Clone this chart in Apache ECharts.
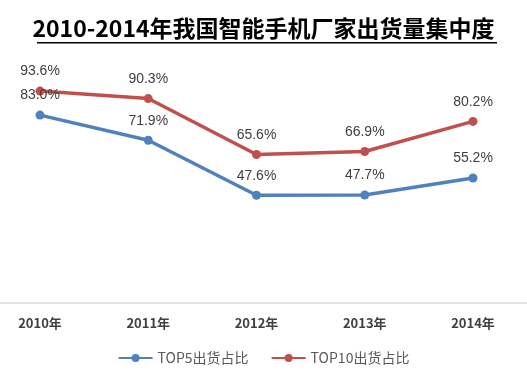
<!DOCTYPE html>
<html>
<head>
<meta charset="utf-8">
<script src="https://cdn.jsdelivr.net/npm/echarts@6/dist/echarts.min.js"></script>
<style>
html,body{margin:0;padding:0;background:#fff;}
#main{width:527px;height:377px;}
</style>
</head>
<body>
<div id="main"></div>
<script>
var years = ['2010年', '2011年', '2012年', '2013年', '2014年'];
var top5 = [83.0, 71.9, 47.6, 47.7, 55.2];
var top10 = [93.6, 90.3, 65.6, 66.9, 80.2];

(function(){
	var myChart = echarts.init(document.getElementById('main'));
	var font = '"Noto Sans CJK SC", "Liberation Sans", sans-serif';
	var labelCfg = {
		show: true,
		position: 'top',
		distance: 8,
		fontFamily: '"Liberation Sans", sans-serif',
		fontSize: 14,
		color: '#404040',
		formatter: function(p){ return p.value.toFixed(1) + '%'; }
	};
	var option = {
		animation: false,
		title: {
			text: '2010-2014年我国智能手机厂家出货量集中度',
			left: 'center',
			top: 12,
			textStyle: {
				fontFamily: font,
				fontSize: 23,
				fontWeight: 'bold',
				color: '#000'
			}
		},
		graphic: [
			{
				// 标题下划线
				type: 'rect',
				shape: { x: 37, y: 42, width: 460, height: 1.5 },
				style: { fill: '#000' }
			}
		],
		grid: [
			{ left: 40, right: 54, top: 76.6, bottom: 74 },
			// 底部整宽轴线
			{ left: 0, right: 0, top: 76.6, bottom: 74 }
		],
		legend: {
			bottom: 7,
			left: 'center',
			itemWidth: 34,
			itemHeight: 10,
			itemGap: 22,
			textStyle: {
				fontFamily: font,
				fontSize: 14,
				color: '#595959'
			},
			data: ['TOP5出货占比', 'TOP10出货占比']
		},
		xAxis: [
			{
				type: 'category',
				gridIndex: 0,
				data: years,
				boundaryGap: false,
				axisLine: { show: false },
				axisTick: { show: false },
				axisLabel: {
					margin: 14,
					fontFamily: font,
					fontSize: 13,
					fontWeight: 'bold',
					color: '#404040'
				}
			},
			{
				type: 'category',
				gridIndex: 1,
				data: [],
				axisLine: { lineStyle: { color: '#d9d9d9', width: 1.5 } },
				axisTick: { show: false },
				axisLabel: { show: false }
			}
		],
		yAxis: [
			{ type: 'value', gridIndex: 0, min: 0, max: 100, show: false },
			{ type: 'value', gridIndex: 1, min: 0, max: 100, show: false }
		],
		series: [
			{
				name: 'TOP5出货占比',
				type: 'line',
				data: top5,
				symbol: 'circle',
				symbolSize: 9,
				color: '#4f81bd',
				lineStyle: { width: 3.5, color: '#4f81bd' },
				label: labelCfg
			},
			{
				name: 'TOP10出货占比',
				type: 'line',
				data: top10,
				symbol: 'circle',
				symbolSize: 9,
				color: '#c0504d',
				lineStyle: { width: 3.5, color: '#c0504d' },
				label: labelCfg
			}
		]
	};
	myChart.setOption(option);
	window.addEventListener("resize", function() {
		myChart.resize();
	});
})();
</script>
</body>
</html>
